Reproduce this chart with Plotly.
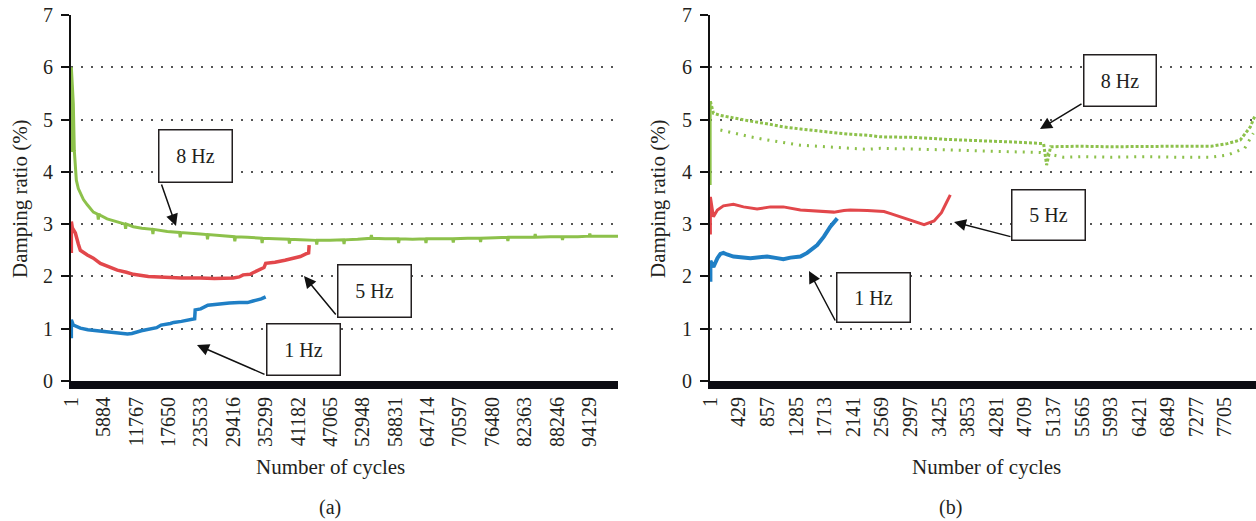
import plotly.graph_objects as go

# ---------------- panel (a) data ----------------
a_tick_vals = [1, 5884, 11767, 17650, 23533, 29416, 35299, 41182, 47065, 52948,
               58831, 64714, 70597, 76480, 82363, 88246, 94129]

a_1hz_cycles = [1, 1, 360, 1635, 3000, 5270, 8350, 10200, 11000, 12700, 15500, 16300,
                18000, 18600, 20000, 22400, 22500, 23500, 24800, 26500, 28700, 30500,
                32000, 33000, 34500, 35300]
a_1hz_ratio = [0.82, 1.17, 1.07, 1.01, 0.98, 0.96, 0.93, 0.90, 0.91, 0.96, 1.02, 1.07,
               1.10, 1.12, 1.14, 1.19, 1.36, 1.38, 1.45, 1.47, 1.49, 1.50,
               1.50, 1.53, 1.57, 1.61]

a_5hz_cycles = [1, 1, 180, 450, 730, 1270, 1635, 2900, 4000, 5270, 6500, 8350, 10000,
                11260, 14000, 17430, 20000, 23430, 26000, 29420, 30500, 31200, 32500,
                33000, 34200, 35000, 35300, 37000, 38800, 40500, 41600, 42600, 43100,
                43200]
a_5hz_ratio = [2.45, 3.05, 2.93, 2.88, 2.83, 2.62, 2.50, 2.41, 2.35, 2.25, 2.20, 2.12, 2.08,
               2.04, 2.00, 1.98, 1.97, 1.97, 1.96, 1.97, 1.99, 2.03, 2.04,
               2.07, 2.12, 2.17, 2.25, 2.27, 2.31, 2.35, 2.38, 2.43, 2.45,
               2.60]

a_8hz_cycles = [1, 1, 180, 360, 545, 730, 910, 1270, 1635, 2200, 2900, 3500, 4000,
                4780, 4900, 5020, 5270, 6500, 7400, 8350, 9740, 9860, 9980, 11260, 12800,
                14700, 14820, 14940, 16000, 17430, 19660, 19780, 19900, 21500, 23430,
                24620, 24740, 24860, 27000, 29580, 29700, 29820, 32000, 34540, 34660,
                34780, 37000, 39500, 39620, 39740, 41590, 44460, 44580, 44700, 47000,
                49420, 49540, 49660, 52000, 54380, 54500, 54620, 57000, 59340, 59460,
                59580, 62000, 64300, 64420, 64540, 67000, 69260, 69380, 69500, 72000,
                74220, 74340, 74460, 77000, 79180, 79300, 79420, 82000, 84140, 84260,
                84380, 87000, 89100, 89220, 89340, 92000, 94060, 94180, 94300, 97000,
                99300]
a_8hz_ratio = [4.38, 6.00, 5.66, 5.30, 4.40, 4.05, 3.84, 3.68, 3.59, 3.47, 3.37, 3.28, 3.23,
               3.19, 3.09, 3.19, 3.17, 3.10, 3.07, 3.04, 3.00, 2.91, 3.00, 2.95, 2.92,
               2.90, 2.81, 2.90, 2.88, 2.86, 2.84, 2.75, 2.84, 2.82, 2.81,
               2.80, 2.71, 2.80, 2.78, 2.76, 2.67, 2.76, 2.75, 2.73, 2.64,
               2.73, 2.72, 2.71, 2.63, 2.71, 2.70, 2.69, 2.61, 2.69, 2.69,
               2.70, 2.62, 2.70, 2.71, 2.73, 2.79, 2.73, 2.72, 2.72, 2.64,
               2.72, 2.71, 2.72, 2.64, 2.72, 2.72, 2.72, 2.65, 2.72, 2.73,
               2.73, 2.66, 2.73, 2.74, 2.75, 2.68, 2.75, 2.75, 2.75, 2.81,
               2.75, 2.76, 2.76, 2.70, 2.76, 2.76, 2.77, 2.82, 2.77, 2.77,
               2.77]

# ---------------- panel (b) data ----------------
b_tick_vals = [1, 429, 857, 1285, 1713, 2141, 2569, 2997, 3425, 3853, 4281, 4709,
               5137, 5565, 5993, 6421, 6849, 7277, 7705]

b_1hz_cycles = [1, 1, 46, 106, 151, 196, 250, 346, 600, 850, 1000, 1093, 1200, 1348,
                1450, 1600, 1700, 1796, 1901]
b_1hz_ratio = [1.90, 2.30, 2.18, 2.35, 2.43, 2.45, 2.42, 2.38, 2.35, 2.38, 2.35, 2.33,
               2.36, 2.38, 2.45, 2.60, 2.76, 2.95, 3.11]

b_5hz_cycles = [1, 1, 46, 106, 196, 346, 496, 700, 900, 1093, 1348, 1600, 1850, 2000,
                2096, 2350, 2600, 2700, 2900, 3050, 3200, 3350, 3460, 3530, 3593]
b_5hz_ratio = [2.80, 3.52, 3.14, 3.27, 3.35, 3.38, 3.33, 3.29, 3.33, 3.33, 3.27, 3.25,
               3.23, 3.26, 3.27, 3.26, 3.24, 3.20, 3.12, 3.06, 2.99, 3.06, 3.22, 3.40,
               3.56]

b_8hz_start_cycles = [1, 1]
b_8hz_start_ratio = [3.75, 5.35]

b_8hz_upper_cycles = [1, 46, 151, 346, 600, 850, 1093, 1348, 1600, 1850, 2096, 2350,
                      2545, 3040, 3550, 4045, 4540, 4990, 5035, 5095, 5540, 6000, 6500,
                      7000, 7500, 7740, 7935, 8085, 8160]
b_8hz_upper_ratio = [5.35, 5.12, 5.08, 5.03, 4.97, 4.92, 4.86, 4.82, 4.78, 4.75, 4.72, 4.70,
                     4.67, 4.66, 4.62, 4.60, 4.57, 4.54, 4.13, 4.48, 4.49, 4.48, 4.49,
                     4.49, 4.49, 4.54, 4.61, 4.86, 5.09]

b_8hz_lower_cycles = [151, 346, 600, 850, 1093, 1348, 1850, 2350, 2545, 3040, 3550,
                      4045, 4540, 4945, 5290, 5540, 6000, 6500, 7000, 7500, 7740, 8000,
                      8130]
b_8hz_lower_ratio = [4.80, 4.74, 4.67, 4.61, 4.56, 4.51, 4.47, 4.43, 4.45, 4.44, 4.42,
                     4.40, 4.38, 4.37, 4.28, 4.29, 4.28, 4.29, 4.28, 4.28, 4.32, 4.45,
                     4.74]

GREEN = "#8DC14B"
RED = "#E2474B"
BLUE = "#1F7FC5"
INK = "#231F20"
FONT = "Liberation Serif"

fig = go.Figure()

def line(xs, ys, color, width, xa, ya, dash="solid"):
    fig.add_trace(go.Scatter(x=xs, y=ys, mode="lines", xaxis=xa, yaxis=ya,
                             line=dict(color=color, width=width, dash=dash),
                             hoverinfo="skip", showlegend=False))

line(a_8hz_cycles, a_8hz_ratio, GREEN, 3, "x", "y")
line(a_5hz_cycles, a_5hz_ratio, RED, 3.5, "x", "y")
line(a_1hz_cycles, a_1hz_ratio, BLUE, 3.5, "x", "y")

line(b_8hz_start_cycles, b_8hz_start_ratio, GREEN, 2.5, "x2", "y2")
line(b_8hz_upper_cycles, b_8hz_upper_ratio, GREEN, 3, "x2", "y2", dash="3px,2px")
line(b_8hz_lower_cycles, b_8hz_lower_ratio, GREEN, 3, "x2", "y2", dash="2px,6px")
line(b_5hz_cycles, b_5hz_ratio, RED, 3, "x2", "y2")
line(b_1hz_cycles, b_1hz_ratio, BLUE, 4, "x2", "y2")

W, H = 1256, 521
TOP, BOT = 15, 381


def xp(px):
    return px / W


def yp(py):
    return (BOT - py) / (BOT - TOP)


tick_font = dict(family=FONT, size=20, color=INK)

xcommon = dict(tickangle=-90, showline=True, linewidth=8, linecolor="#0b0b12",
               ticks="", showgrid=False, zeroline=False, tickfont=tick_font,
               tickmode="array", automargin=False)
ycommon = dict(range=[0, 7], dtick=1, tick0=0, showline=True, linewidth=2,
               linecolor="#111", ticks="outside", ticklen=8, tickwidth=1.5,
               tickcolor="#111", showgrid=True, gridcolor="#555", gridwidth=1.5,
               griddash="1.5px,8.5px", zeroline=False, tickfont=tick_font,
               ticklabelstandoff=4, automargin=False)

fig.update_layout(
    width=W, height=H, autosize=False,
    margin=dict(l=0, r=0, t=TOP, b=H - BOT, pad=0),
    plot_bgcolor="white", paper_bgcolor="white",
    showlegend=False,
    xaxis=dict(domain=[xp(71), xp(618)], range=[-60, 99300], anchor="y",
               tickvals=a_tick_vals, ticktext=[str(v) for v in a_tick_vals], **xcommon),
    yaxis=dict(domain=[0, 1], anchor="x", **ycommon),
    xaxis2=dict(domain=[xp(710), 1.0], range=[-5, 8170], anchor="y2",
                tickvals=b_tick_vals, ticktext=[str(v) for v in b_tick_vals], **xcommon),
    yaxis2=dict(domain=[0, 1], anchor="x2", **ycommon),
)

annotations = []

# axis titles and panel labels
def label(text, cx, cy, angle=0, size=21):
    annotations.append(dict(text=text, x=xp(cx), y=yp(cy), xref="paper", yref="paper",
                            showarrow=False, textangle=angle, xanchor="center",
                            yanchor="middle", font=dict(family=FONT, size=size, color=INK)))

label("Damping ratio (%)", 20, 199, angle=-90)
label("Damping ratio (%)", 658, 199, angle=-90)
label("Number of cycles", 330, 467)
label("Number of cycles", 986, 467)
label("(a)", 330, 507, size=20)
label("(b)", 950, 507, size=20)

# callouts: (text, box left, top, right, bottom, tail x, tail y, tip x, tip y)
callouts = [
    ("8 Hz", 158, 129, 233, 183, 161, 183, 176, 226),
    ("5 Hz", 337, 264, 412, 318, 337, 316, 304, 276),
    ("1 Hz", 266, 323, 341, 376, 266, 375, 197, 345),
    ("8 Hz", 1083, 54, 1157, 107, 1083, 103, 1040, 129),
    ("5 Hz", 1011, 189, 1086, 241, 1012, 237, 954, 222),
    ("1 Hz", 836, 272, 911, 323, 836, 322, 809, 271),
]
for text, l, t, r, b, tx, ty, hx, hy in callouts:
    annotations.append(dict(text="", x=xp(hx), y=yp(hy), xref="paper", yref="paper",
                            showarrow=True, ax=tx - hx, ay=ty - hy, arrowhead=2,
                            arrowsize=1.6, arrowwidth=1.5, arrowcolor="#111", standoff=0))
    annotations.append(dict(text=text, x=xp((l + r) / 2), y=yp((t + b) / 2),
                            xref="paper", yref="paper", showarrow=False,
                            xanchor="center", yanchor="middle",
                            width=r - l - 3, height=b - t - 3, borderpad=0,
                            bordercolor=INK, borderwidth=1.5, bgcolor="white",
                            font=dict(family=FONT, size=20, color=INK)))

fig.update_layout(annotations=annotations)

fig.write_html("out.html",
               config={"displayModeBar": False},
               post_script="document.body.style.margin='0';"
                           "document.body.style.overflow='hidden';")
